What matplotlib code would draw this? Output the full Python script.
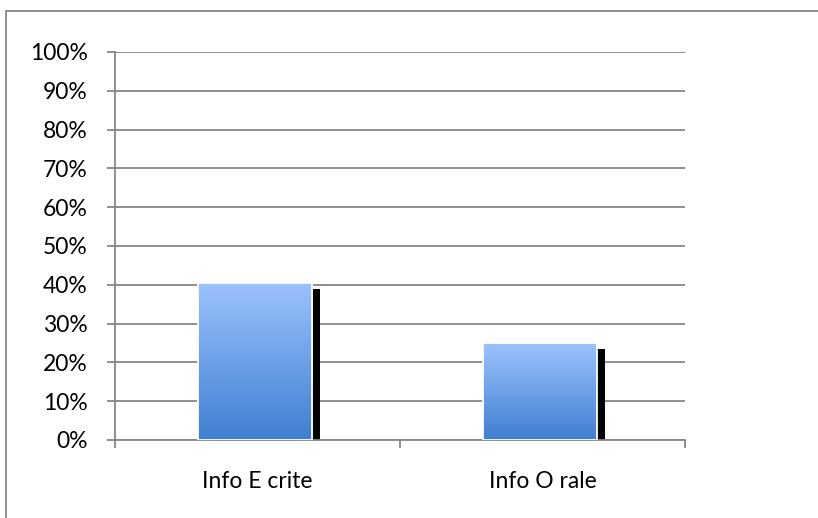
import matplotlib
matplotlib.use("Agg")
import matplotlib.pyplot as plt
import numpy as np
from matplotlib.patches import Rectangle
from matplotlib.ticker import PercentFormatter, FixedLocator
from matplotlib.colors import LinearSegmentedColormap

categories = ["Info E crite", "Info O rale"]
values = [0.405, 0.25]
yticks = [0.0, 0.1, 0.2, 0.3, 0.4, 0.5, 0.6, 0.7, 0.8, 0.9, 1.0]

plt.rcParams['font.family'] = ['Lato', 'DejaVu Sans']

W, H = 818, 518
DPI = 100
fig = plt.figure(figsize=(W / DPI, H / DPI), dpi=DPI)
ax = fig.add_axes([115 / W, 1 - 440 / H, 570 / W, 388 / H])

gray = "#868686"
x = np.arange(len(categories))
bw = 0.4
ax.set_xlim(-0.5, len(categories) - 0.5)
ax.set_ylim(0, 1)

# pixel-to-data conversions for shadow offset
px_x = (len(categories)) / 570.0
px_y = 1.0 / 388.0

# shadow
ax.bar(x - 0.01 + 8 * px_x, [v - 6 * px_y for v in values], width=bw,
       color="black", zorder=2, linewidth=0)

bars = ax.bar(x - 0.01, values, width=bw, color="none",
              edgecolor="white", linewidth=1.3, zorder=4)

cmap = LinearSegmentedColormap.from_list("g", ["#3F7FD0", "#9CC2FE"])
grad = np.linspace(0, 1, 256).reshape(-1, 1)
for b in bars:
    x0, y0 = b.get_x(), b.get_y()
    w, h = b.get_width(), b.get_height()
    im = ax.imshow(grad, extent=[x0, x0 + w, y0, y0 + h], origin="lower",
                   cmap=cmap, aspect="auto", zorder=3)
    im.set_clip_path(b)
ax.set_xlim(-0.5, len(categories) - 0.5)
ax.set_ylim(0, 1)

ax.set_yticks(yticks)
ax.yaxis.set_major_formatter(PercentFormatter(1.0, decimals=0))
ax.yaxis.grid(True, color=gray, linewidth=1.3, zorder=1)
ax.set_axisbelow(True)

ax.set_xticks(x)
ax.set_xticklabels(categories)
ax.xaxis.set_minor_locator(FixedLocator([-0.5, 0.5, 1.5]))
ax.tick_params(axis="x", which="major", length=0, pad=22, labelsize=16.5, colors="black")
ax.tick_params(axis="x", which="minor", length=6, width=1.3, color=gray, direction="out")
ax.tick_params(axis="y", which="major", length=6, width=1.3, color=gray, pad=13.5,
               labelsize=16.5, labelcolor="black")

for s in ["top", "right"]:
    ax.spines[s].set_visible(False)
for s in ["left", "bottom"]:
    ax.spines[s].set_color(gray)
    ax.spines[s].set_linewidth(1.3)

# outer chart border (extends past right and bottom edges)
fig.add_artist(Rectangle((6 / W, -0.2), 2.0, 1 - 11 / H + 0.2,
                         transform=fig.transFigure, fill=False,
                         edgecolor=gray, linewidth=1.3))

fig.savefig("out.png", dpi=DPI)
